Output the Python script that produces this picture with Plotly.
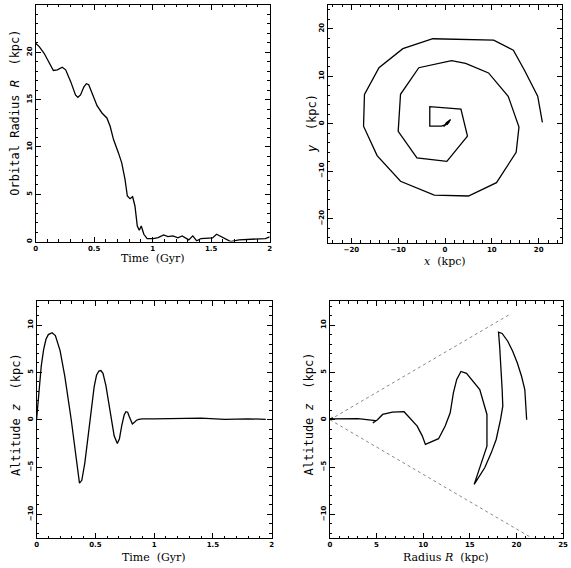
import plotly.graph_objects as go

# ---- data: orbital radius vs time (top-left) ----
t_R = [0, 0.031, 0.073, 0.116, 0.152, 0.186, 0.228, 0.257, 0.30, 0.341, 0.361, 0.384, 0.412,
       0.434, 0.454, 0.482, 0.525, 0.567, 0.609, 0.637, 0.666, 0.708, 0.736, 0.764, 0.784,
       0.807, 0.829, 0.849, 0.869, 0.886, 0.903, 0.925, 0.953, 1.004, 1.047, 1.094, 1.131,
       1.173, 1.216, 1.252, 1.286, 1.309, 1.343, 1.377, 1.413, 1.47, 1.512, 1.546, 1.583,
       1.625, 1.667, 1.738, 1.822, 1.907, 1.963, 2.0]
R_t = [20.96, 20.6, 19.9, 18.86, 18.08, 18.15, 18.43, 18.15, 16.9, 15.5, 15.24, 15.5, 16.33,
       16.68, 16.57, 15.7, 14.36, 13.59, 13.06, 12.18, 10.78, 9.37, 8.32, 6.57, 4.81,
       4.53, 4.74, 3.76, 1.65, 1.19, 1.65, 0.77, 0.32, 0.32, 0.42, 0.70, 0.53,
       0.60, 0.39, 0.60, 0.32, 0.18, 0.60, 0.07, 0.32, 0.39, 0.39, 0.77, 0.53,
       0.25, 0.0, 0.18, 0.25, 0.35, 0.32, 0.49]

# ---- data: orbit in the x-y plane (top-right) ----
orb_x = [20.8, 19.8, 17.0, 14.6, 10.4, 4.6, -2.6, -9.0, -14.1, -17.2, -17.4, -14.5, -9.5, -2.3,
         5.0, 11.0, 15.2, 15.8, 13.5, 9.3, 4.4, 1.4, -5.6, -9.5, -10.0, -6.0, -1.5, 0.4, 4.8,
         3.4, -3.25, -3.25, -0.8, 0.2, 1.2, 0.3, -0.3, 1.0, 0.4, 0.7]
orb_y = [0.3, 5.8, 11.2, 15.5, 17.6, 17.8, 17.9, 15.8, 11.8, 6.2, -0.5, -6.7, -12.1, -15.0,
         -15.2, -12.4, -6.0, -0.7, 5.8, 10.7, 12.7, 13.3, 11.8, 6.2, -1.6, -7.2, -7.7, -7.9, -2.6,
         3.1, 3.6, -0.5, -0.5, -0.2, 0.9, 0.2, -0.6, 0.5, -0.2, 0.4]

# ---- data: altitude vs time (bottom-left) ----
t_z = [0, 0.02, 0.04, 0.06, 0.08, 0.10, 0.132, 0.16, 0.20, 0.24, 0.27, 0.295, 0.32, 0.34, 0.365,
       0.385, 0.41, 0.43, 0.45, 0.47, 0.49, 0.51, 0.53, 0.547, 0.565, 0.59, 0.617, 0.635, 0.66,
       0.687, 0.705, 0.725, 0.745, 0.76, 0.775, 0.79, 0.80, 0.815, 0.83, 0.85, 0.87, 0.9, 1.0,
       1.2, 1.4, 1.6, 1.8, 1.95]
z_t = [0, 3.2, 5.7, 7.4, 8.5, 9.0, 9.2, 8.9, 7.3, 4.6, 2.3, 0, -2.4, -4.3, -6.7,
       -6.4, -4.6, -2.6, -0.5, 1.6, 3.5, 4.7, 5.15, 5.2, 4.9, 3.6, 1.4, 0, -1.7,
       -2.5, -2.0, -0.6, 0.5, 0.85, 0.8, 0.3, -0.1, -0.45, -0.3, -0.05, 0.05, 0.1, 0.1,
       0.12, 0.18, 0.05, 0.1, 0.05]

# ---- data: altitude vs radius (bottom-right) ----
Rz_R = [21.1, 20.9, 20.55, 20.1, 19.6, 19.07, 18.47, 18.08, 18.2, 18.36, 18.47, 18.54, 18.3,
        17.83, 17.3, 16.6, 15.9, 15.47, 16.84, 16.84, 16.07, 14.65, 14.05, 13.6, 13.24, 12.9,
        12.36, 11.65, 10.24, 9.9, 9.36, 7.95, 6.7, 5.65, 5.1, 4.6, 4.9, 3.0, 1.0, 0.2, 0.0,
        0.3, 0.0]
Rz_z = [0.0, 3.2, 4.6, 6.0, 7.25, 8.3, 9.12, 9.26, 7.8, 5.67, 3.2, 1.44, 0.03,
        -2.08, -3.5, -5.07, -6.23, -6.83, -2.8, 0.56, 3.2, 4.9, 5.1, 4.26, 2.85, 0.74,
        -0.67, -2.0, -2.6, -1.7, -0.67, 0.85, 0.81, 0.56, 0.0, -0.35, -0.1, 0.12, 0.15, 0.1, 0.1,
        0.2, 0.05]

# cone lines (|z| = R tan 30deg)
cone_up_R = [0, 19.4]
cone_up_z = [0, 11.2]
cone_lo_R = [0, 21.4]
cone_lo_z = [0, -12.35]

W, H = 571, 568
def fx(px): return px / W
def fy(py): return 1 - py / H

line = dict(color="black", width=1.3)
fig = go.Figure()
fig.add_trace(go.Scatter(x=t_R, y=R_t, mode="lines", line=line, xaxis="x", yaxis="y"))
fig.add_trace(go.Scatter(x=orb_x, y=orb_y, mode="lines", line=line, xaxis="x2", yaxis="y2"))
fig.add_trace(go.Scatter(x=t_z, y=z_t, mode="lines", line=line, xaxis="x3", yaxis="y3"))
fig.add_trace(go.Scatter(x=cone_up_R, y=cone_up_z, mode="lines",
                         line=dict(color="#888888", width=1, dash="dot"), xaxis="x4", yaxis="y4"))
fig.add_trace(go.Scatter(x=cone_lo_R, y=cone_lo_z, mode="lines",
                         line=dict(color="#888888", width=1, dash="dot"), xaxis="x4", yaxis="y4"))
fig.add_trace(go.Scatter(x=Rz_R, y=Rz_z, mode="lines", line=line, xaxis="x4", yaxis="y4"))

tickfont = dict(family="DejaVu Sans", size=7, color="black", weight="bold")

def ax(domain, rng, dtick, minor, anchor, is_y=False):
    d = dict(domain=domain, range=rng, dtick=dtick, tick0=0, anchor=anchor,
             showline=True, linecolor="black", linewidth=1, mirror="allticks",
             ticks="inside", ticklen=5, tickwidth=1, tickcolor="black",
             minor=dict(ticks="inside", ticklen=2.5, dtick=minor, tickcolor="black", showgrid=False),
             showgrid=False, zeroline=False, tickfont=tickfont, fixedrange=True)
    if is_y:
        d["tickangle"] = -90
    return d

xd1 = [fx(34), fx(271)]; yd1 = [fy(242), fy(5)]
xd2 = [fx(330), fx(567)]; yd2 = [fy(243), fy(5)]
xd3 = [fx(35), fx(273)]; yd3 = [fy(539), fy(302)]
xd4 = [fx(332), fx(568)]; yd4 = [fy(539), fy(302)]

fig.update_layout(
    width=W, height=H, margin=dict(l=0, r=0, t=0, b=0),
    paper_bgcolor="white", plot_bgcolor="white", showlegend=False,
    xaxis=ax(xd1, [0, 2], 0.5, 0.1, "y"),
    yaxis=ax(yd1, [0, 25], 5, 1, "x", True),
    xaxis2=ax(xd2, [-25, 25], 10, 2, "y2"),
    yaxis2=ax(yd2, [-25, 25], 10, 2, "x2", True),
    xaxis3=ax(xd3, [0, 2], 0.5, 0.1, "y3"),
    yaxis3=ax(yd3, [-12.5, 12.5], 5, 1, "x3", True),
    xaxis4=ax(xd4, [0, 25], 5, 1, "y4"),
    yaxis4=ax(yd4, [-12.5, 12.5], 5, 1, "x4", True),
)

xt_font = dict(family="DejaVu Serif", size=11, color="black")
yt_font = dict(family="DejaVu Sans Mono", size=12, color="black")
ann = [
    (sum(xd1) / 2, fy(259), "Time  (Gyr)", xt_font, 0),
    (sum(xd2) / 2, fy(262), "<i>x</i>  (kpc)", xt_font, 0),
    (sum(xd3) / 2, fy(558), "Time  (Gyr)", xt_font, 0),
    (sum(xd4) / 2, fy(558), "Radius <i>R</i>  (kpc)", xt_font, 0),
    (fx(13), fy(113), "Orbital Radius <i>R</i>  (kpc)", yt_font, -90),
    (fx(314), fy(124), "<i>y</i>  (kpc)", yt_font, -90),
    (fx(14), fy(415), "Altitude <i>z</i>  (kpc)", yt_font, -90),
    (fx(311), fy(415), "Altitude <i>z</i>  (kpc)", yt_font, -90),
]
fig.update_layout(annotations=[
    dict(x=x, y=y, xref="paper", yref="paper", text=txt, showarrow=False, font=f,
         textangle=a, xanchor="center", yanchor="middle")
    for x, y, txt, f, a in ann
])

fig.write_html("out.html", config={"displayModeBar": False},
               post_script="document.body.style.margin='0';document.body.style.overflow='hidden';")
